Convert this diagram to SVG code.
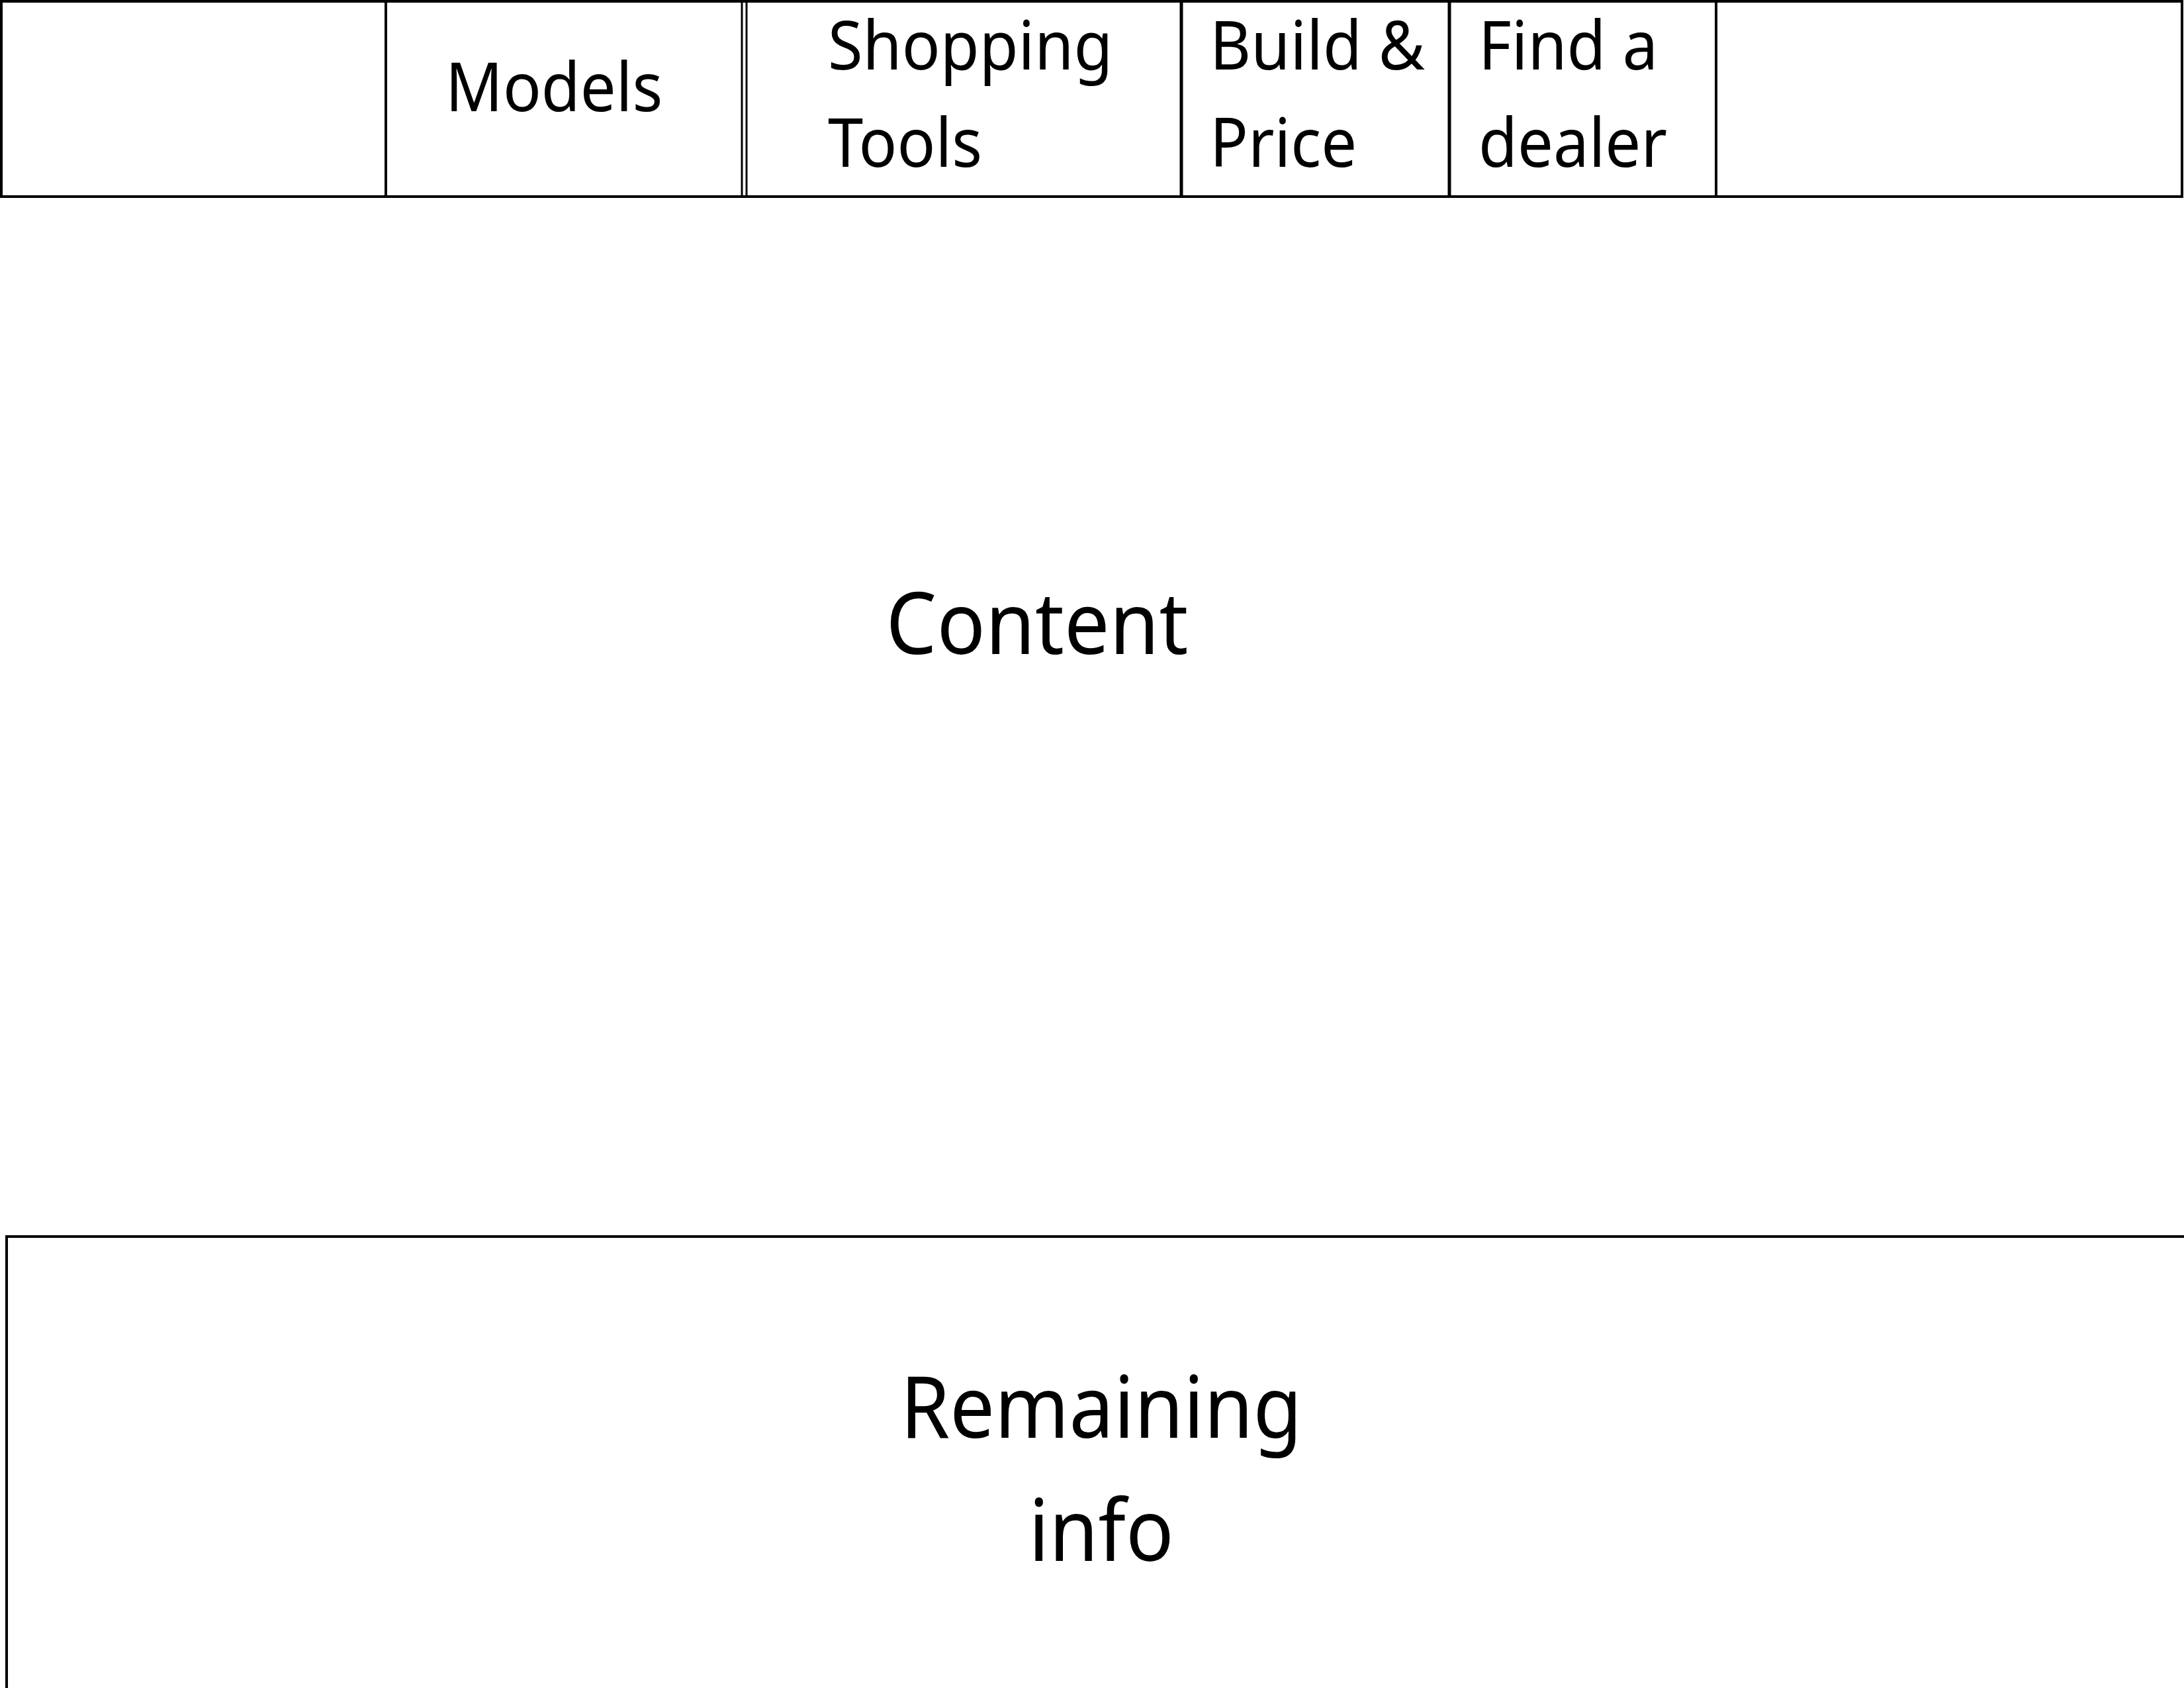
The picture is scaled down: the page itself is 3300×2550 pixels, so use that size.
<svg xmlns="http://www.w3.org/2000/svg" width="3300" height="2550" viewBox="0 0 3300 2550">
<style>
.box{fill:none;stroke:#000;stroke-width:4}
.ln{stroke:#000;stroke-width:4}
.t{font-family:"Noto Sans","Open Sans",sans-serif;font-size:103px;fill:#000}
.big{font-family:"Noto Sans","Open Sans",sans-serif;font-size:130px;fill:#000}
</style>
<rect width="3300" height="2550" fill="#fff"/>
<g id="navbar">
<rect class="box" x="2" y="2" width="3295" height="295"/>
</g>
<g id="connectors">
<line class="ln" x1="583" y1="2" x2="583" y2="297"/>
<line class="ln" x1="1121" y1="2" x2="1121" y2="297" style="stroke-width:3"/>
<line class="ln" x1="1128" y1="2" x2="1128" y2="297" style="stroke-width:3"/>
<line class="ln" x1="1785" y1="2" x2="1785" y2="297" style="stroke-width:5"/>
<line class="ln" x1="2190" y1="2" x2="2190" y2="297" style="stroke-width:5"/>
<line class="ln" x1="2593" y1="2" x2="2593" y2="297"/>
</g>
<g id="models" transform="translate(673,0) scale(0.93,1)"><text class="t" x="0" y="168">Models</text></g>
<g id="shopping-tools" transform="translate(1251,0) scale(0.93,1)"><text class="t" x="0" y="105">Shopping</text><text class="t" x="0" y="252">Tools</text></g>
<g id="build-price" transform="translate(1828,0) scale(0.93,1)"><text class="t" x="0" y="105">Build &amp;</text><text class="t" x="0" y="252">Price</text></g>
<g id="find-dealer" transform="translate(2234,0) scale(0.93,1)"><text class="t" x="0" y="105">Find a</text><text class="t" x="0" y="252">dealer</text></g>
<g id="content" transform="translate(1567,0) scale(0.935,1)"><text class="big" x="0" y="988" text-anchor="middle">Content</text></g>
<g id="remaining-info">
<rect class="box" x="10" y="1868" width="3400" height="800"/>
<g transform="translate(1664,0) scale(0.925,1)">
<text class="big" x="0" y="2172" text-anchor="middle">Remaining</text>
<text class="big" x="0" y="2358" text-anchor="middle">info</text>
</g>
</g>
</svg>
